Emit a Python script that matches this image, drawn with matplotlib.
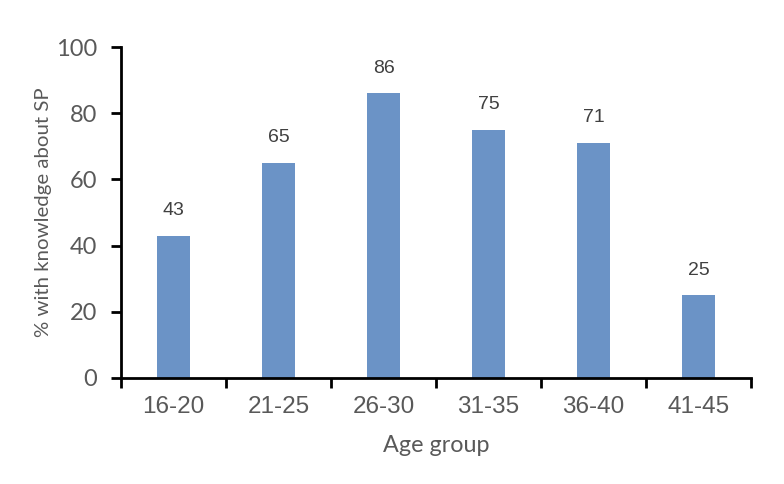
import matplotlib
matplotlib.use("Agg")
import matplotlib.pyplot as plt
import numpy as np

categories = ["16-20", "21-25", "26-30", "31-35", "36-40", "41-45"]
values = [43, 65, 86, 75, 71, 25]
yticks = [0, 20, 40, 60, 80, 100]

fig = plt.figure(figsize=(7.84, 4.84), dpi=100)
ax = fig.add_axes([121/784, 1-378/484, 630/784, 331/484])

x = np.arange(len(categories))
bars = ax.bar(x, values, width=0.31, color="#6B93C6", zorder=2)
for xi, v in zip(x, values):
    ax.text(xi, v + 5, str(v), ha="center", va="bottom", fontsize=14,
            family="Liberation Sans", color="#404040")

ax.set_xlim(-0.5, len(categories) - 0.5)
ax.set_ylim(0, 100)
ax.set_yticks(yticks)
ax.set_yticklabels([str(t) for t in yticks], family="Lato", fontsize=17, color="#595959")

# category labels at centers, ticks at boundaries
ax.set_xticks(np.arange(len(categories) + 1) - 0.5)
ax.set_xticklabels([])
ax.set_xticks(x, minor=True)
ax.set_xticklabels(categories, minor=True, family="Liberation Sans", fontsize=17.5, color="#595959")
ax.tick_params(axis="x", which="minor", length=0, pad=13)
ax.tick_params(axis="x", which="major", length=7, width=2, direction="out", color="black")
ax.tick_params(axis="y", length=7, width=2, direction="out", color="black", pad=10)

for s in ["top", "right"]:
    ax.spines[s].set_visible(False)
for s in ["left", "bottom"]:
    ax.spines[s].set_linewidth(2)
    ax.spines[s].set_color("black")

ax.set_xlabel("Age group", family="Lato", fontsize=16.8, color="#595959", labelpad=12)
ax.set_ylabel("% with knowledge about SP", family="Lato", fontsize=14.7, color="#595959", labelpad=3)

fig.savefig("out.png", dpi=100)
